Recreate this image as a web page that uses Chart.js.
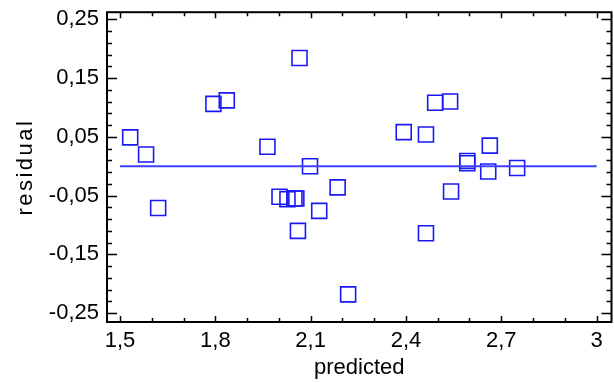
<!DOCTYPE html>
<html>
<head>
<meta charset="utf-8">
<script src="https://cdn.jsdelivr.net/npm/chart.js@4/dist/chart.umd.min.js"></script>
<style>
  html, body { margin: 0; padding: 0; background: #fff; }
  #wrap { width: 614px; height: 383px; }
</style>
</head>
<body>
<div id="wrap"><canvas id="chart" width="614" height="383"></canvas></div>
<script>
// residuals vs predicted values
var predicted = [1.532, 1.582, 1.620, 1.794, 1.836, 1.964, 2.002, 2.027, 2.049, 2.055,
                 2.065, 2.060, 2.098, 2.127, 2.185, 2.218, 2.393, 2.463, 2.463, 2.492,
                 2.539, 2.542, 2.593, 2.593, 2.664, 2.659, 2.750];
var residual = [0.049, 0.020, -0.071, 0.106, 0.112, 0.033, -0.052, -0.056, -0.055, -0.055,
                0.184, -0.110, 0.000, -0.076, -0.036, -0.218, 0.058, 0.054, -0.114, 0.108,
                0.110, -0.043, 0.009, 0.005, 0.035, -0.009, -0.003];

// zero line
var fitX = [1.5, 3];
var fitY = [0, 0];

var xTicks = [1.5, 1.8, 2.1, 2.4, 2.7, 3];
var xTickLabels = ['1,5', '1,8', '2,1', '2,4', '2,7', '3'];
var yTicks = [-0.25, -0.15, -0.05, 0.05, 0.15, 0.25];
var yTickLabels = ['-0,25', '-0,15', '-0,05', '0,05', '0,15', '0,25'];
var xMinorStep = 0.1;
var yMinorStep = 0.02;
var yTitle = 'residual';

var FONT = "'Liberation Sans', Arial, sans-serif";
var PLOT_RIGHT = 611.5;

function labelFor(ticks, labels, v) {
    for (var i = 0; i < ticks.length; i++) {
        if (Math.abs(ticks[i] - v) < 1e-9) return labels[i];
    }
    return '';
}

function isMajor(ticks, v) {
    for (var i = 0; i < ticks.length; i++) {
        if (Math.abs(ticks[i] - v) < 1e-6) return true;
    }
    return false;
}

// the last x label keeps a right margin, push the plot back out to the edge
var stretchRight = {
    id: 'stretchRight',
    afterLayout: function(chart) {
        var a = chart.chartArea;
        var xs = chart.scales.x;
        a.right = PLOT_RIGHT;
        a.width = a.right - a.left;
        xs.right = PLOT_RIGHT;
        xs.width = xs.right - xs.left;
        xs.configure();
    }
};

// black frame with inward ticks on all four sides, plus the y title
var frameTicks = {
    id: 'frameTicks',
    afterDatasetsDraw: function(chart) {
        var ctx = chart.ctx;
        var a = chart.chartArea;
        var xs = chart.scales.x, ys = chart.scales.y;
        ctx.save();
        ctx.strokeStyle = '#000';
        ctx.lineWidth = 1.5;
        ctx.beginPath();
        var nx = Math.round((xTicks[xTicks.length - 1] - xTicks[0]) / xMinorStep);
        for (var k = 0; k <= nx; k++) {
            var v = xTicks[0] + k * xMinorStep;
            var px = Math.round(xs.getPixelForValue(v)) + 0.5;
            var len = isMajor(xTicks, v) ? 6 : 4;
            ctx.moveTo(px, a.bottom); ctx.lineTo(px, a.bottom - len);
            ctx.moveTo(px, a.top); ctx.lineTo(px, a.top + len);
        }
        var ny = Math.round((yTicks[yTicks.length - 1] - yTicks[0]) / yMinorStep);
        for (var j = 0; j <= ny; j++) {
            var w = yTicks[0] + j * yMinorStep;
            var py = Math.round(ys.getPixelForValue(w)) + 0.5;
            var l2 = isMajor(yTicks, w) ? 10 : 5;
            ctx.moveTo(a.left, py); ctx.lineTo(a.left + l2, py);
            ctx.moveTo(a.right, py); ctx.lineTo(a.right - l2, py);
        }
        ctx.stroke();
        ctx.lineWidth = 2;
        ctx.strokeRect(a.left, a.top, a.right - a.left, a.bottom - a.top);

        // rotated y title, a little spaced out like the original
        ctx.translate(26, (a.top + a.bottom) / 2);
        ctx.rotate(-Math.PI / 2);
        ctx.font = '22px ' + FONT;
        ctx.fillStyle = '#000';
        ctx.textAlign = 'center';
        ctx.textBaseline = 'middle';
        if ('letterSpacing' in ctx) ctx.letterSpacing = '2.5px';
        ctx.fillText(yTitle, 0, 0);
        ctx.restore();
    }
};

var ctx = document.getElementById('chart');
var chart = new Chart(ctx, {
    type: 'scatter',
    data: {
        datasets: [
            {
                type: 'line',
                data: fitX.map(function(x, i) { return {x: x, y: fitY[i]}; }),
                borderColor: 'rgb(64,64,255)',
                borderWidth: 2,
                pointRadius: 0,
                fill: false
            },
            {
                data: predicted.map(function(x, i) { return {x: x, y: residual[i]}; }),
                pointStyle: 'rect',
                pointRadius: 10.6,
                pointHoverRadius: 10.6,
                borderColor: 'rgb(25,25,245)',
                backgroundColor: 'rgba(0,0,0,0)',
                borderWidth: 1.6
            }
        ]
    },
    options: {
        responsive: false,
        animation: false,
        devicePixelRatio: 1,
        layout: { padding: { top: 11, right: 2, left: 0, bottom: 0 } },
        plugins: { legend: { display: false }, tooltip: { enabled: false } },
        scales: {
            x: {
                type: 'linear',
                min: 1.459,
                max: 3.047,
                afterBuildTicks: function(scale) {
                    scale.ticks = xTicks.map(function(v) { return {value: v}; });
                },
                afterFit: function(scale) {
                    scale.height = 61;
                },
                grid: { display: false, drawTicks: false },
                border: { display: false },
                ticks: {
                    padding: 6,
                    color: '#000',
                    maxRotation: 0,
                    font: { family: FONT, size: 22 },
                    callback: function(v) { return labelFor(xTicks, xTickLabels, v); }
                },
                title: {
                    display: true,
                    text: 'predicted',
                    color: '#000',
                    font: { family: FONT, size: 22 },
                    padding: { top: 0, bottom: 2 }
                }
            },
            y: {
                type: 'linear',
                min: -0.265,
                max: 0.262,
                afterBuildTicks: function(scale) {
                    scale.ticks = yTicks.map(function(v) { return {value: v}; });
                },
                afterFit: function(scale) {
                    scale.width = 107;
                    scale.paddingTop = 0;
                    scale.paddingBottom = 0;
                },
                grid: { display: false, drawTicks: false },
                border: { display: false },
                ticks: {
                    padding: 8,
                    color: '#000',
                    font: { family: FONT, size: 22 },
                    callback: function(v) { return labelFor(yTicks, yTickLabels, v); }
                }
            }
        }
    },
    plugins: [stretchRight, frameTicks]
});
</script>
</body>
</html>
